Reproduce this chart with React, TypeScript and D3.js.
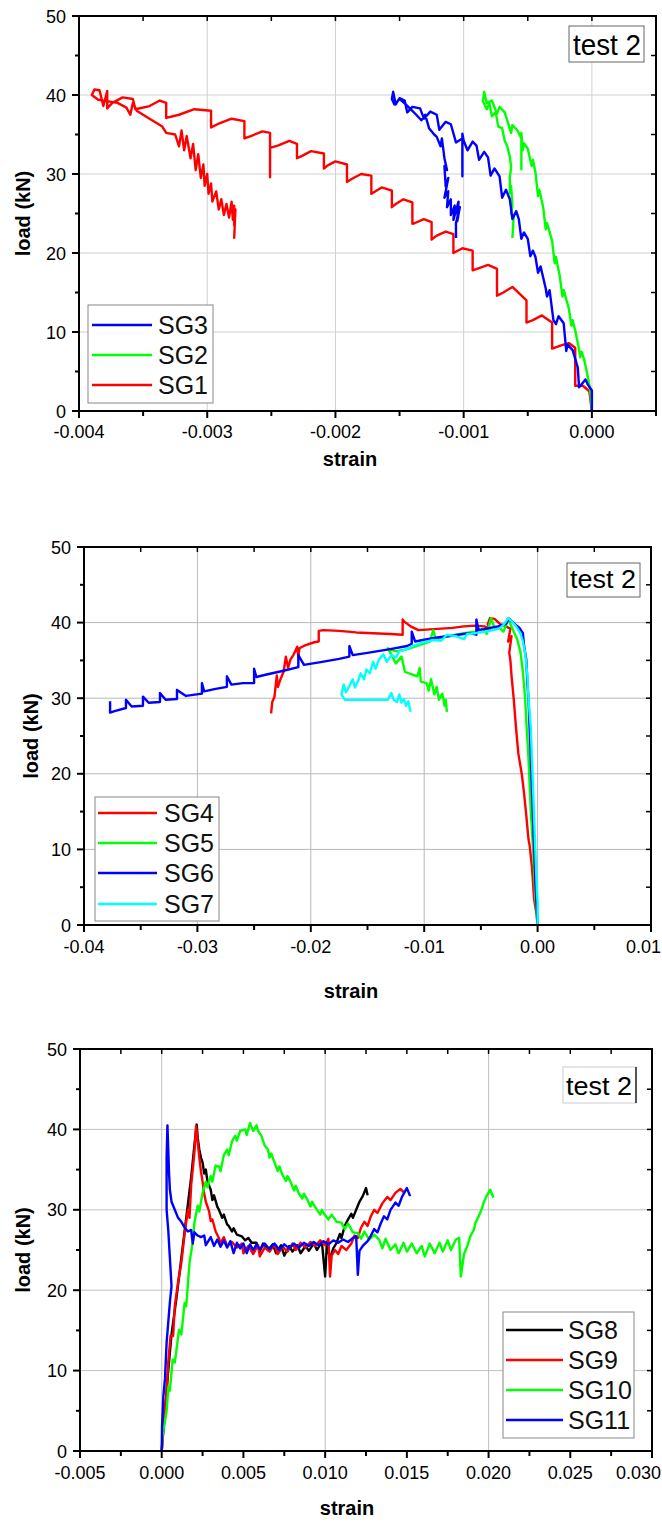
import React from 'react';
import * as d3 from 'd3';

type Pt = [number, number];

// ---------- shared axis data ----------
const loadTicks = [0, 10, 20, 30, 40, 50];
const loadMinor = [5, 15, 25, 35, 45];
const loadLabel = 'load (kN)';
const strainLabel = 'strain';
const testLabel = 'test 2';

// ---------- panel 1 ----------
const p1XDomain: Pt = [-0.004, 0.0005];
const p1XTicks = [-0.004, -0.003, -0.002, -0.001, 0.0];
const p1XLabels = ['-0.004', '-0.003', '-0.002', '-0.001', '0.000'];
const p1XMinor = [-0.0035, -0.0025, -0.0015, -0.0005, 0.0005];
const p1Names = ['SG3', 'SG2', 'SG1'];

const SG1: Pt[] = [
  [0, 0], [-0.00002, 2.5], [-0.00007, 3.2], [-0.00013, 3.2], [-0.00013, 8.0], [-0.00018, 8.6], [-0.00024, 8.3], [-0.00031, 7.9],
  [-0.00031, 11.2], [-0.00039, 12.1], [-0.00046, 11.5], [-0.00051, 11.2], [-0.00051, 14.0], [-0.00062, 15.7], [-0.00069, 15.0],
  [-0.00074, 14.6], [-0.00074, 18.0], [-0.00081, 18.5], [-0.00088, 18.1], [-0.00093, 17.8], [-0.00093, 20.3], [-0.00101, 20.6],
  [-0.00108, 20.0], [-0.00108, 22.4], [-0.00114, 22.7], [-0.00121, 22.2], [-0.00125, 21.7], [-0.00125, 23.9], [-0.00131, 24.3],
  [-0.00138, 23.8], [-0.0014, 23.7], [-0.0014, 26.4], [-0.00147, 26.8], [-0.00153, 26.2], [-0.00156, 25.8], [-0.00156, 27.9],
  [-0.00164, 28.3], [-0.0017, 27.7], [-0.00172, 27.5], [-0.00172, 29.8], [-0.0018, 30.0], [-0.00187, 29.4], [-0.00191, 29.0],
  [-0.00191, 31.2], [-0.002, 31.6], [-0.00206, 31.1], [-0.00209, 30.7], [-0.00209, 32.6], [-0.00219, 32.9], [-0.00226, 32.3],
  [-0.0023, 32.0], [-0.0023, 33.8], [-0.00236, 34.2], [-0.00245, 33.6], [-0.00251, 33.3], [-0.00251, 29.6], [-0.00251, 35.2],
  [-0.00257, 35.4], [-0.00266, 34.8], [-0.00271, 34.5], [-0.00271, 36.7], [-0.00281, 37.0], [-0.00292, 36.3], [-0.00297, 35.9],
  [-0.00297, 38.0], [-0.0031, 38.2], [-0.00322, 37.5], [-0.00332, 37.1], [-0.00332, 39.0], [-0.00337, 39.3], [-0.00345, 38.6],
  [-0.00356, 38.2], [-0.00358, 39.5], [-0.00366, 39.7], [-0.00374, 39.0], [-0.00378, 38.3], [-0.00378, 40.5], [-0.00381, 38.6],
  [-0.00384, 40.6], [-0.00388, 40.7], [-0.0039, 40.0], [-0.00385, 39.4], [-0.0037, 39.0], [-0.00363, 38.4], [-0.0036, 37.5],
  [-0.00358, 39.0], [-0.00355, 38.0], [-0.00345, 37.0], [-0.00335, 36.0], [-0.00332, 35.2], [-0.00325, 35.0], [-0.00322, 33.5],
  [-0.0032, 35.5], [-0.00318, 33.0], [-0.00316, 34.8], [-0.00313, 32.0], [-0.00311, 33.8], [-0.00309, 30.5], [-0.00307, 32.5],
  [-0.00305, 29.5], [-0.00303, 31.2], [-0.00302, 28.5], [-0.003, 30.0], [-0.00299, 27.5], [-0.00297, 28.8], [-0.00296, 26.5],
  [-0.00293, 27.8], [-0.00291, 25.5], [-0.00289, 26.8], [-0.00287, 24.8], [-0.00285, 26.2], [-0.00283, 24.5], [-0.00281, 26.5],
  [-0.0028, 24.2], [-0.00279, 26.0], [-0.00279, 23.5], [-0.00278, 25.5], [-0.00279, 21.8],
];

const SG2: Pt[] = [
  [0, 0], [-0.00001, 2.0], [-0.00002, 3.3], [-0.00004, 5.0], [-0.00006, 6.5], [-0.00008, 7.5], [-0.00009, 6.8], [-0.00011, 8.6],
  [-0.00013, 10.2], [-0.00015, 11.5], [-0.00016, 10.8], [-0.00018, 13.0], [-0.00022, 15.3], [-0.00023, 14.5], [-0.00025, 17.0],
  [-0.00028, 19.5], [-0.00029, 18.7], [-0.00031, 21.5], [-0.00035, 23.8], [-0.00036, 23.0], [-0.00038, 25.8], [-0.00041, 28.0],
  [-0.00042, 27.2], [-0.00044, 30.2], [-0.00046, 31.8], [-0.00047, 31.0], [-0.0005, 33.2], [-0.00053, 33.9], [-0.00054, 33.0],
  [-0.00055, 35.2], [-0.00055, 30.6], [-0.00055, 34.5], [-0.00058, 35.5], [-0.00062, 36.2], [-0.00063, 35.2], [-0.00068, 37.8],
  [-0.00072, 38.5], [-0.00074, 37.6], [-0.00078, 39.3], [-0.00082, 39.0], [-0.00084, 40.4], [-0.00085, 39.2], [-0.00082, 38.2],
  [-0.0008, 39.0], [-0.00078, 37.3], [-0.00075, 37.8], [-0.00073, 36.0], [-0.0007, 35.8], [-0.00068, 34.2], [-0.00066, 33.5],
  [-0.00064, 32.2], [-0.00063, 30.9], [-0.00064, 29.5], [-0.00064, 27.6], [-0.00063, 28.5], [-0.00062, 26.0], [-0.00063, 25.0],
  [-0.00061, 24.6], [-0.00062, 21.9],
];

const SG3: Pt[] = [
  [0, 0], [0, 2.6], [-0.00003, 3.3], [-0.00005, 4.0], [-0.00008, 3.4], [-0.0001, 3.0], [-0.00011, 5.5], [-0.00015, 7.7],
  [-0.00019, 8.4], [-0.0002, 7.6], [-0.00022, 11.1], [-0.00026, 12.0], [-0.00028, 11.0], [-0.0003, 11.5], [-0.00033, 15.3],
  [-0.00035, 14.5], [-0.00036, 15.5], [-0.0004, 18.3], [-0.00042, 17.5], [-0.00044, 19.5], [-0.00046, 20.3], [-0.00048, 19.6],
  [-0.0005, 21.8], [-0.00053, 22.6], [-0.00055, 21.8], [-0.00057, 24.3], [-0.00059, 25.3], [-0.00062, 24.3], [-0.00064, 26.8],
  [-0.00067, 28.0], [-0.0007, 27.0], [-0.00072, 29.7], [-0.00076, 30.7], [-0.00079, 29.8], [-0.00081, 32.1], [-0.00084, 32.8],
  [-0.00088, 31.8], [-0.0009, 33.6], [-0.00093, 34.1], [-0.00097, 33.0], [-0.001, 34.2], [-0.00101, 35.1], [-0.00101, 29.7],
  [-0.00101, 34.5], [-0.00106, 34.0], [-0.0011, 36.3], [-0.00114, 36.6], [-0.00119, 35.6], [-0.00121, 37.5], [-0.00126, 37.9],
  [-0.00131, 37.0], [-0.00134, 38.3], [-0.0014, 38.5], [-0.00144, 37.8], [-0.00146, 39.3], [-0.0015, 39.6], [-0.00153, 38.8],
  [-0.00155, 40.4], [-0.00156, 39.5], [-0.00154, 38.8], [-0.0015, 39.5], [-0.00145, 38.8], [-0.0014, 38.0], [-0.00137, 37.5],
  [-0.00133, 36.8], [-0.0013, 37.5], [-0.00127, 35.8], [-0.00123, 35.0], [-0.00121, 34.7], [-0.00118, 33.5], [-0.00117, 34.5],
  [-0.00115, 32.0], [-0.00113, 30.5], [-0.00115, 31.0], [-0.00114, 28.4], [-0.00112, 29.5], [-0.00115, 27.0], [-0.00112, 27.8],
  [-0.00113, 25.8], [-0.0011, 26.8], [-0.0011, 24.8], [-0.00107, 26.0], [-0.00108, 24.2], [-0.00104, 26.5], [-0.00105, 24.0],
  [-0.00103, 25.8], [-0.00106, 23.8], [-0.00106, 21.9],
];

// ---------- panel 2 ----------
const p2XDomain: Pt = [-0.04, 0.01];
const p2XTicks = [-0.04, -0.03, -0.02, -0.01, 0.0, 0.01];
const p2XLabels = ['-0.04', '-0.03', '-0.02', '-0.01', '0.00', '0.01'];
const p2XMinor = [-0.035, -0.025, -0.015, -0.005, 0.005];
const p2Names = ['SG4', 'SG5', 'SG6', 'SG7'];

const SG4: Pt[] = [
  [0, 0], [-0.0001, 1.5], [-0.0003, 3.3], [-0.0004, 5.5], [-0.0005, 7.7], [-0.0007, 10.5], [-0.0008, 11.3], [-0.001, 14.5],
  [-0.0012, 17.5], [-0.0014, 20], [-0.0017, 22.7], [-0.0019, 26], [-0.0021, 29.8], [-0.0023, 33], [-0.0024, 35], [-0.0025, 36],
  [-0.0023, 38.2], [-0.0026, 37.5], [-0.0024, 39.2], [-0.0028, 39.5], [-0.0033, 39.8], [-0.0038, 40.5], [-0.0042, 40.6],
  [-0.0044, 39.8], [-0.0042, 39.2], [-0.0047, 39.5], [-0.0055, 39.6], [-0.0065, 39.5], [-0.0075, 39.3], [-0.0085, 39.2],
  [-0.0095, 39.1], [-0.0105, 39.0], [-0.0112, 39.5], [-0.0118, 40.2], [-0.0119, 40.4], [-0.0119, 38.4], [-0.013, 38.5],
  [-0.0145, 38.6], [-0.016, 38.7], [-0.0175, 38.9], [-0.0189, 39.0], [-0.0193, 38.9], [-0.0193, 37.5], [-0.0197, 37.4],
  [-0.0205, 37.0], [-0.021, 36.6], [-0.0211, 35.5], [-0.0212, 36.8], [-0.0215, 35.8], [-0.0218, 35.1], [-0.022, 34.0],
  [-0.0222, 35.5], [-0.0224, 33.5], [-0.0227, 32.4], [-0.0229, 31.5], [-0.023, 33.0], [-0.0232, 30.2], [-0.0234, 29.5],
  [-0.0235, 28.0],
];

const SG5: Pt[] = [
  [0, 0], [-0.0001, 2], [-0.0002, 3.5], [-0.0003, 7], [-0.0004, 10], [-0.0006, 15], [-0.0008, 22], [-0.001, 27], [-0.0011, 30],
  [-0.0013, 33.5], [-0.0015, 36], [-0.0018, 37.8], [-0.0021, 38.8], [-0.0024, 39.8], [-0.0026, 40.6], [-0.0028, 39.6],
  [-0.003, 38.8], [-0.0033, 39.2], [-0.0038, 39.3], [-0.0041, 40.6], [-0.0043, 39.5], [-0.0045, 38.5], [-0.0048, 39.2],
  [-0.0055, 38.8], [-0.0065, 38.6], [-0.0075, 38.3], [-0.0085, 38.0], [-0.009, 37.8], [-0.0092, 39.0], [-0.0095, 37.5],
  [-0.0105, 37.0], [-0.0115, 36.5], [-0.0125, 36.2], [-0.0132, 36.6], [-0.0128, 35.5], [-0.0125, 34.6], [-0.012, 35.5],
  [-0.0117, 33.5], [-0.0112, 33.2], [-0.0106, 32.9], [-0.0104, 34.0], [-0.0103, 32.2], [-0.0098, 32.0], [-0.0096, 31.0],
  [-0.0094, 32.5], [-0.0091, 30.5], [-0.0089, 31.5], [-0.0087, 29.8], [-0.0084, 30.6], [-0.0082, 29.0], [-0.0081, 29.8],
  [-0.008, 28.2],
];

const SG6: Pt[] = [
  [0, 0], [-0.0001, 3], [-0.0002, 6], [-0.0003, 10], [-0.0004, 14], [-0.0005, 18], [-0.0006, 22], [-0.0007, 26], [-0.0008, 29.8],
  [-0.0009, 32], [-0.001, 35.1], [-0.0012, 37], [-0.0013, 38.6], [-0.0016, 39.3], [-0.002, 39.8], [-0.0025, 40.5],
  [-0.0028, 39.8], [-0.0035, 39.5], [-0.0045, 39.2], [-0.0052, 39.0], [-0.0054, 40.4], [-0.0054, 38.4], [-0.006, 38.6],
  [-0.007, 38.4], [-0.008, 38.2], [-0.009, 38.0], [-0.0101, 37.7], [-0.0108, 37.5], [-0.0111, 38.8], [-0.0111, 37.2],
  [-0.0115, 36.9], [-0.013, 36.5], [-0.015, 36.0], [-0.0163, 35.7], [-0.0166, 36.9], [-0.0166, 35.5], [-0.0175, 35.2],
  [-0.019, 34.8], [-0.0206, 34.4], [-0.0211, 35.7], [-0.0211, 34.1], [-0.0225, 33.6], [-0.024, 33.1], [-0.0248, 32.8],
  [-0.025, 33.9], [-0.025, 32.0], [-0.026, 32.0], [-0.027, 31.8], [-0.0274, 32.9], [-0.0274, 31.5], [-0.0285, 31.2],
  [-0.0294, 30.9], [-0.0296, 32.0], [-0.0296, 30.6], [-0.031, 30.3], [-0.0318, 31.1], [-0.0318, 29.9], [-0.0328, 29.8],
  [-0.0333, 30.7], [-0.0333, 29.5], [-0.0343, 29.4], [-0.0348, 30.2], [-0.0348, 29.0], [-0.0358, 28.9], [-0.0363, 29.8],
  [-0.0363, 28.7], [-0.0373, 28.3], [-0.0377, 28.1], [-0.0377, 29.6],
];

const SG7: Pt[] = [
  [0, 0], [0, 3], [-0.0001, 6], [-0.0002, 10], [-0.0003, 14], [-0.0004, 18], [-0.0005, 22], [-0.0006, 26], [-0.0008, 30],
  [-0.0009, 33], [-0.0011, 36], [-0.0013, 37.5], [-0.0015, 38.5], [-0.0019, 39.5], [-0.0023, 40.2], [-0.0026, 40.6],
  [-0.003, 39.7], [-0.0034, 39.2], [-0.0045, 38.8], [-0.0055, 38.6], [-0.0062, 38.5], [-0.0065, 37.8], [-0.0072, 38.2],
  [-0.008, 38.4], [-0.0085, 37.6], [-0.0092, 37.7], [-0.0103, 37.3], [-0.011, 36.9], [-0.0117, 36.4], [-0.0122, 36.2],
  [-0.0125, 35.4], [-0.0129, 35.7], [-0.0133, 34.8], [-0.0136, 35.8], [-0.014, 35.1], [-0.0143, 33.9], [-0.0145, 34.8],
  [-0.0148, 33.3], [-0.0151, 33.8], [-0.0153, 32.5], [-0.0156, 33.3], [-0.0158, 32.4], [-0.0161, 31.4], [-0.0163, 32.5],
  [-0.0166, 31.6], [-0.0169, 30.8], [-0.0171, 31.8], [-0.0173, 30.5], [-0.017, 29.8], [-0.016, 29.8], [-0.015, 29.8],
  [-0.014, 29.8], [-0.0132, 29.8], [-0.0129, 30.7], [-0.0127, 29.8], [-0.0124, 29.5], [-0.0122, 30.5], [-0.012, 29.4],
  [-0.0118, 29.9], [-0.0116, 29.0], [-0.0114, 29.6], [-0.0112, 28.2],
];

// ---------- panel 3 ----------
const p3XDomain: Pt = [-0.005, 0.03];
const p3XTicks = [-0.005, 0.0, 0.005, 0.01, 0.015, 0.02, 0.025, 0.03];
const p3XLabels = ['-0.005', '0.000', '0.005', '0.010', '0.015', '0.020', '0.025', '0.030'];
const p3XMinor = [-0.0025, 0.0025, 0.0075, 0.0125, 0.0175, 0.0225, 0.0275];
const p3XGrid = [0.0, 0.01, 0.02];
const p3Names = ['SG8', 'SG9', 'SG10', 'SG11'];

const SG8: Pt[] = [
  [0, 0], [0.0002, 5], [0.0004, 10], [0.0006, 14.5], [0.0009, 19], [0.0012, 24], [0.0015, 29], [0.0018, 34], [0.002, 38],
  [0.00214, 40.6], [0.0022, 39], [0.0023, 37.5], [0.0024, 36.5], [0.0025, 35.9], [0.0026, 34.5], [0.0027, 35.0], [0.0028, 33.5],
  [0.003, 32.5], [0.0031, 31.2], [0.0032, 31.8], [0.0034, 30.4], [0.0035, 30.0], [0.0037, 29.0], [0.0038, 29.4], [0.004, 28.2],
  [0.0041, 28.0], [0.0043, 27.3], [0.0044, 27.7], [0.0046, 26.9], [0.0049, 26.7], [0.0051, 26.2], [0.0053, 26.5],
  [0.0055, 25.9], [0.0058, 25.9], [0.006, 24.8], [0.0062, 25.8], [0.0065, 25.0], [0.0068, 25.7], [0.007, 24.6],
  [0.0073, 25.6], [0.0075, 24.3], [0.0078, 25.5], [0.008, 24.8], [0.0083, 25.6], [0.0085, 24.6], [0.0088, 25.5],
  [0.009, 24.9], [0.0093, 25.8], [0.0095, 25.0], [0.0098, 26.0], [0.01, 21.7], [0.0101, 25.5], [0.0103, 24.0], [0.0105, 25.2],
  [0.0107, 25.9], [0.0109, 27.0], [0.011, 26.5], [0.0112, 28.0], [0.0114, 28.8], [0.0116, 29.5], [0.0117, 29.0],
  [0.0119, 30.0], [0.0121, 31.0], [0.0123, 31.7], [0.0124, 32.2], [0.0125, 32.7], [0.0126, 31.8],
];

const SG9: Pt[] = [
  [0, 0], [0.0001, 3], [0.00028, 6.8], [0.0004, 11], [0.00054, 14.3], [0.0007, 14.3], [0.0008, 18], [0.001, 21], [0.0012, 23.4],
  [0.0014, 27], [0.0016, 30], [0.0017, 29], [0.0018, 33], [0.002, 37.1], [0.0021, 40.4], [0.0022, 38.5], [0.0023, 36.5],
  [0.0024, 34.8], [0.0025, 33.5], [0.0026, 32], [0.0027, 31], [0.0029, 29.8], [0.003, 28.6], [0.0031, 28.8], [0.0033, 27.3],
  [0.0035, 26.5], [0.0036, 25.8], [0.0038, 26.6], [0.004, 25.5], [0.0043, 26.0], [0.0046, 25.3], [0.0049, 25.8], [0.005, 24.6],
  [0.0053, 25.5], [0.0056, 24.5], [0.0059, 25.6], [0.006, 24.2], [0.0063, 25.3], [0.0066, 24.8], [0.0069, 25.7],
  [0.0071, 24.5], [0.0074, 25.4], [0.0077, 24.8], [0.008, 25.8], [0.0082, 25.0], [0.0085, 25.9], [0.0088, 25.3],
  [0.0091, 26.0], [0.0094, 25.5], [0.0097, 26.2], [0.01, 25.6], [0.0102, 26.4], [0.0103, 21.7], [0.0104, 24.3],
  [0.0106, 25.0], [0.0108, 24.5], [0.011, 25.5], [0.0113, 25.0], [0.0116, 25.8], [0.0118, 26.8], [0.012, 26.5],
  [0.0122, 27.8], [0.0124, 28.5], [0.0126, 28.0], [0.0128, 29.2], [0.013, 30.0], [0.0132, 29.6], [0.0135, 30.8],
  [0.0138, 31.6], [0.014, 31.2], [0.0143, 32.1], [0.0146, 32.6], [0.0148, 32.2],
];

const SG10: Pt[] = [
  [0, 0], [0.00005, 2], [0.00015, 3.1], [0.0003, 5], [0.00041, 8], [0.0005, 7.5], [0.00067, 11.4], [0.0008, 11],
  [0.00106, 15.1], [0.0012, 14.5], [0.0014, 18.4], [0.0015, 18], [0.0017, 23.4], [0.0019, 26], [0.002, 28.4], [0.0022, 30.5],
  [0.0023, 29.8], [0.0025, 32.1], [0.0027, 33.5], [0.0028, 32.8], [0.003, 34.2], [0.0031, 33.5], [0.0033, 35.5],
  [0.0035, 35.4], [0.0036, 34.8], [0.0038, 36.8], [0.004, 37.5], [0.0041, 36.8], [0.0043, 38.5], [0.0045, 39.2],
  [0.0046, 38.6], [0.0048, 39.8], [0.0051, 40.0], [0.0052, 39.3], [0.0054, 40.8], [0.0056, 39.8], [0.0058, 40.5],
  [0.0059, 39.8], [0.0061, 39.2], [0.0063, 38.0], [0.0065, 37.5], [0.0066, 36.5], [0.0067, 37.0], [0.0069, 35.9],
  [0.0071, 34.8], [0.0072, 35.4], [0.0074, 34.3], [0.0076, 33.6], [0.0077, 34.2], [0.0079, 33.4], [0.0081, 32.4],
  [0.0082, 33.0], [0.0084, 32.0], [0.0086, 31.4], [0.0087, 32.0], [0.0089, 31.3], [0.0091, 30.4], [0.0092, 31.0],
  [0.0095, 30.0], [0.0097, 29.4], [0.0098, 30.0], [0.0099, 29.6], [0.0102, 28.8], [0.0104, 29.4], [0.0107, 28.5],
  [0.011, 28.4], [0.0112, 27.6], [0.0114, 28.3], [0.0117, 27.2], [0.012, 27.1], [0.0122, 26.4], [0.0124, 27.3],
  [0.0127, 26.3], [0.013, 26.9], [0.0133, 26.3], [0.0135, 25.2], [0.0137, 26.4], [0.014, 25.0], [0.0143, 25.7],
  [0.0145, 24.6], [0.0148, 25.9], [0.015, 24.8], [0.0153, 25.8], [0.0156, 24.6], [0.0159, 25.5], [0.0161, 24.2],
  [0.0164, 25.8], [0.0167, 24.6], [0.017, 25.9], [0.0172, 24.8], [0.0175, 26.2], [0.0177, 25.0], [0.018, 26.3],
  [0.0182, 26.5], [0.0183, 21.7], [0.0185, 24.5], [0.0187, 25.5], [0.0189, 26.8], [0.0191, 27.5], [0.0192, 28.4],
  [0.0194, 29.2], [0.0196, 30.2], [0.0197, 30.9], [0.0199, 31.8], [0.0201, 32.5], [0.0202, 32.0], [0.0203, 31.5],
];

const SG11: Pt[] = [
  [0, 0], [0.00002, 3], [0.0001, 6.8], [0.0002, 9], [0.0003, 13.5], [0.0004, 16], [0.0005, 18.5], [0.0006, 20.5],
  [0.0005, 24], [0.0004, 27.5], [0.0003, 30], [0.0003, 33], [0.0003, 36.5], [0.00035, 40.5], [0.0004, 37.5],
  [0.00045, 34.5], [0.0005, 32.5], [0.0006, 31], [0.0008, 30], [0.001, 29], [0.0012, 28.5], [0.0014, 27.8], [0.0016, 27.3],
  [0.0018, 27.5], [0.0019, 25.8], [0.002, 27.2], [0.0022, 26.8], [0.0024, 26.6], [0.0026, 26.8], [0.0027, 25.6],
  [0.003, 26.6], [0.0032, 25.5], [0.0034, 26.3], [0.0036, 25.4], [0.0038, 26.2], [0.004, 25.3], [0.0042, 26.1],
  [0.0044, 24.6], [0.0046, 25.9], [0.0048, 25.2], [0.005, 25.8], [0.0052, 24.6], [0.0054, 25.7], [0.0056, 25.0],
  [0.0058, 25.7], [0.006, 25.1], [0.0063, 25.8], [0.0066, 25.1], [0.0069, 25.8], [0.0072, 25.0], [0.0075, 25.7],
  [0.0078, 25.2], [0.0081, 25.8], [0.0084, 25.3], [0.0087, 25.9], [0.009, 25.5], [0.0093, 26.0], [0.0096, 25.6],
  [0.0099, 26.1], [0.0102, 25.7], [0.0105, 26.2], [0.0108, 25.9], [0.0111, 26.3], [0.0114, 26.0], [0.0117, 26.5],
  [0.0119, 26.7], [0.012, 21.9], [0.0121, 24.9], [0.0123, 25.5], [0.0126, 26.1], [0.0128, 26.8], [0.013, 27.6],
  [0.0132, 27.2], [0.0134, 28.3], [0.0136, 29.2], [0.0138, 28.8], [0.014, 30.0], [0.0143, 30.9], [0.0145, 30.5],
  [0.0147, 31.6], [0.015, 32.7], [0.0152, 31.7],
];

// ---------- rendering ----------
const FONT = '"Liberation Sans", Arial, Helvetica, sans-serif';
const PAGE_W = 662;

interface SeriesDef { name: string; data: Pt[]; color: string; }
interface PanelProps {
  left: number; right: number; top: number; bottom: number;
  xDomain: Pt; xTicks: number[]; xLabels: string[]; xMinor: number[]; xGrid: number[];
  series: SeriesDef[];
  legend: SeriesDef[];
  legendBox: { x: number; y: number; w: number; h: number; lineX1: number; lineX2: number; textX: number; rows: number[] };
  testBox: { x: number; y: number; w: number; h: number; textX: number; baseline: number; fontSize: number; textLen: number; darkRight?: boolean };
  labelBaseline: number; strainBaseline: number; strainX: number; loadX: number; gridColor: string;
}

function Panel(p: PanelProps) {
  const x = d3.scaleLinear().domain(p.xDomain).range([p.left, p.right]);
  const y = d3.scaleLinear().domain([0, 50]).range([p.bottom, p.top]);
  const line = d3.line<Pt>().x((d) => x(d[0])).y((d) => y(d[1]));
  const loadMid = (p.top + p.bottom) / 2;
  const lb = p.legendBox;
  const tb = p.testBox;
  return (
    <g>
      <defs>
        <clipPath id={`clip${p.top}`}>
          <rect x={p.left} y={p.top} width={p.right - p.left} height={p.bottom - p.top} />
        </clipPath>
      </defs>
      {p.xGrid.filter((v) => v > p.xDomain[0] && v < p.xDomain[1]).map((v, i) => (
        <line key={'gx' + i} x1={x(v)} x2={x(v)} y1={p.top} y2={p.bottom} stroke={p.gridColor} strokeWidth={1} />
      ))}
      {loadTicks.filter((v) => v > 0 && v < 50).map((v, i) => (
        <line key={'gy' + i} x1={p.left} x2={p.right} y1={y(v)} y2={y(v)} stroke={p.gridColor} strokeWidth={1} />
      ))}
      <g clipPath={`url(#clip${p.top})`}>
        {p.series.map((s) => (
          <path key={s.name} d={line(s.data) || ''} fill="none" stroke={s.color} strokeWidth={2.4} strokeLinejoin="round" />
        ))}
      </g>
      <rect x={p.left} y={p.top} width={p.right - p.left} height={p.bottom - p.top} fill="none" stroke="#000" strokeWidth={2} />
      {p.xTicks.map((v, i) => {
        const tx = x(v);
        // keep the edge label inside the page
        const atEdge = tx + 22 > PAGE_W;
        return (
          <g key={'xt' + i}>
            <line x1={tx} x2={tx} y1={p.bottom} y2={p.bottom + 7} stroke="#000" strokeWidth={2} />
            <line x1={tx} x2={tx} y1={p.top} y2={p.top + 5} stroke="#000" strokeWidth={1.5} />
            <text x={atEdge ? PAGE_W - 1 : tx} y={p.bottom + p.labelBaseline} textAnchor={atEdge ? 'end' : 'middle'} fontFamily={FONT} fontSize={18} fill="#000">{p.xLabels[i]}</text>
          </g>
        );
      })}
      {p.xMinor.map((v, i) => (
        <g key={'xm' + i}>
          <line x1={x(v)} x2={x(v)} y1={p.bottom} y2={p.bottom + 5} stroke="#000" strokeWidth={2} />
          <line x1={x(v)} x2={x(v)} y1={p.top} y2={p.top + 5} stroke="#000" strokeWidth={1.5} />
        </g>
      ))}
      {loadTicks.map((v, i) => (
        <g key={'yt' + i}>
          <line x1={p.left - 7} x2={p.left} y1={y(v)} y2={y(v)} stroke="#000" strokeWidth={2} />
          <line x1={p.right - 5} x2={p.right} y1={y(v)} y2={y(v)} stroke="#000" strokeWidth={1.5} />
          <text x={p.left - 13} y={y(v) + 6.5} textAnchor="end" fontFamily={FONT} fontSize={18} fill="#000">{String(v)}</text>
        </g>
      ))}
      {loadMinor.map((v, i) => (
        <g key={'ym' + i}>
          <line x1={p.left - 4} x2={p.left} y1={y(v)} y2={y(v)} stroke="#000" strokeWidth={2} />
          <line x1={p.right - 5} x2={p.right} y1={y(v)} y2={y(v)} stroke="#000" strokeWidth={1.5} />
        </g>
      ))}
      <text x={p.strainX} y={p.strainBaseline} textAnchor="middle" fontFamily={FONT} fontWeight="bold" fontSize={20} fill="#000">{strainLabel}</text>
      <text transform={`translate(${p.loadX},${loadMid}) rotate(-90)`} textAnchor="middle" dy={7} fontFamily={FONT} fontWeight="bold" fontSize={20} fill="#000">{loadLabel}</text>
      <rect x={lb.x} y={lb.y} width={lb.w} height={lb.h} fill="#fff" stroke="#888" strokeWidth={1} />
      {p.legend.map((s, i) => (
        <g key={'lg' + s.name}>
          <line x1={lb.lineX1} x2={lb.lineX2} y1={lb.rows[i]} y2={lb.rows[i]} stroke={s.color} strokeWidth={2.4} />
          <text x={lb.textX} y={lb.rows[i] + 9} fontFamily={FONT} fontSize={25} fill="#111">{s.name}</text>
        </g>
      ))}
      <rect x={tb.x} y={tb.y} width={tb.w} height={tb.h} fill="#fff" stroke={tb.darkRight ? '#ccc' : '#666'} strokeWidth={1} />
      {tb.darkRight && <line x1={tb.x + tb.w} x2={tb.x + tb.w} y1={tb.y} y2={tb.y + tb.h} stroke="#222" strokeWidth={1.5} />}
      <text x={tb.textX} y={tb.baseline} fontFamily={FONT} fontSize={tb.fontSize} textLength={tb.textLen} lengthAdjust="spacingAndGlyphs" fill="#000">{testLabel}</text>
    </g>
  );
}

export default function App() {
  const p1Series: SeriesDef[] = [
    { name: 'SG1', data: SG1, color: '#ff0000' },
    { name: 'SG2', data: SG2, color: '#00ff00' },
    { name: 'SG3', data: SG3, color: '#0000ff' },
  ];
  const p1Legend = p1Names.map((n) => p1Series.find((s) => s.name === n)!);
  const p2Series: SeriesDef[] = [
    { name: 'SG4', data: SG4, color: '#ff0000' },
    { name: 'SG5', data: SG5, color: '#00ff00' },
    { name: 'SG6', data: SG6, color: '#0000ff' },
    { name: 'SG7', data: SG7, color: '#00ffff' },
  ];
  const p2Legend = p2Names.map((n) => p2Series.find((s) => s.name === n)!);
  const p3Series: SeriesDef[] = [
    { name: 'SG8', data: SG8, color: '#000000' },
    { name: 'SG9', data: SG9, color: '#ff0000' },
    { name: 'SG10', data: SG10, color: '#00ff00' },
    { name: 'SG11', data: SG11, color: '#0000ff' },
  ];
  const p3Legend = p3Names.map((n) => p3Series.find((s) => s.name === n)!);

  return (
    <svg width={662} height={1522} style={{ position: 'absolute', left: 0, top: 0, background: '#fff' }}>
      <rect x={0} y={0} width={662} height={1522} fill="#fff" />
      <Panel
        left={79} right={656} top={16} bottom={411}
        xDomain={p1XDomain} xTicks={p1XTicks} xLabels={p1XLabels} xMinor={p1XMinor} xGrid={p1XTicks}
        series={p1Series} legend={p1Legend}
        legendBox={{ x: 88, y: 305, w: 125, h: 98, lineX1: 92, lineX2: 152, textX: 158, rows: [325, 355, 385] }}
        testBox={{ x: 569, y: 26, w: 75, h: 36, textX: 573, baseline: 55, fontSize: 29, textLen: 68 }}
        labelBaseline={27} strainBaseline={466} strainX={350} loadX={23} gridColor="#d0d0d0"
      />
      <Panel
        left={84} right={651} top={547} bottom={925}
        xDomain={p2XDomain} xTicks={p2XTicks} xLabels={p2XLabels} xMinor={p2XMinor} xGrid={p2XTicks}
        series={p2Series} legend={p2Legend}
        legendBox={{ x: 95, y: 797, w: 124, h: 124, lineX1: 98, lineX2: 157, textX: 164, rows: [813, 843, 873, 904] }}
        testBox={{ x: 567, y: 563, w: 73, h: 34, textX: 570, baseline: 588, fontSize: 25, textLen: 66 }}
        labelBaseline={28} strainBaseline={998} strainX={351} loadX={31} gridColor="#b8b8b8"
      />
      <Panel
        left={80} right={652} top={1049} bottom={1451}
        xDomain={p3XDomain} xTicks={p3XTicks} xLabels={p3XLabels} xMinor={p3XMinor} xGrid={p3XGrid}
        series={p3Series} legend={p3Legend}
        legendBox={{ x: 503, y: 1312, w: 131, h: 126, lineX1: 506, lineX2: 563, textX: 568, rows: [1330, 1360, 1390, 1420] }}
        testBox={{ x: 563, y: 1067, w: 73, h: 36, textX: 566, baseline: 1095, fontSize: 25, textLen: 66, darkRight: true }}
        labelBaseline={28} strainBaseline={1515} strainX={347} loadX={23} gridColor="#c0c0c0"
      />
    </svg>
  );
}
